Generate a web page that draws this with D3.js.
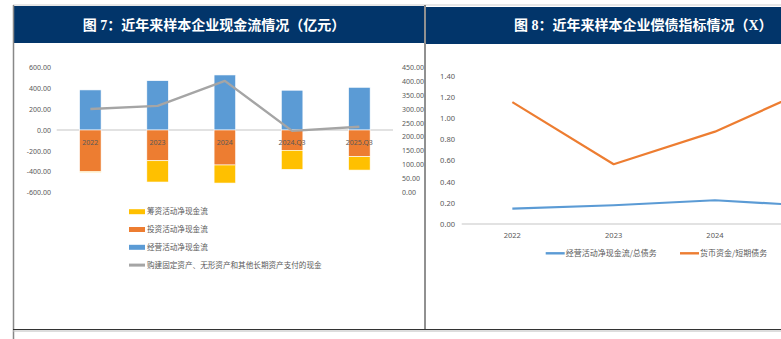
<!DOCTYPE html>
<html><head><meta charset="utf-8">
<script src="https://cdn.jsdelivr.net/npm/d3@7"></script>
<style>
html,body{margin:0;padding:0;background:#fff;}
svg{display:block;font-family:"Noto Sans CJK SC","Noto Sans",sans-serif;}
</style></head>
<body>
<svg id="c" width="781" height="339"></svg>
<script>
// ---- Left chart data ----
const cats = ["2022", "2023", "2024", "2024.Q3", "2025.Q3"];
const operating = [386, 475, 530, 383, 411];      // 经营活动净现金流
const investing = [-402, -296, -337, -196, -257]; // 投资活动净现金流
const financing = [-6, -205, -174, -183, -129];   // 筹资活动净现金流
const capex = [300, 311, 401, 221, 236];          // 购建固定资产...支付的现金 (right axis)
const leftTicks = [-600, -400, -200, 0, 200, 400, 600];
const rightTicks = [0, 50, 100, 150, 200, 250, 300, 350, 400, 450];

// ---- Right chart data ----
const cats2 = ["2022", "2023", "2024", "2024.Q3"];
const opDebt = [0.145, 0.177, 0.224, 0.17];   // 经营活动净现金流/总债务
const cashShort = [1.15, 0.564, 0.872, 1.30]; // 货币资金/短期债务
const ticks2 = [0, 0.2, 0.4, 0.6, 0.8, 1.0, 1.2, 1.4];

const svg = d3.select("#c");
const fmt = d => d.toFixed(2);
const labelColor = "#595959";
const W = 781;

// ---- frame ----
svg.append("line").attr("x1",13).attr("x2",781).attr("y1",5).attr("y2",5).attr("stroke","#cfcfcf").attr("stroke-width",1);
svg.append("rect").attr("x",13).attr("y",6).attr("width",411).attr("height",37).attr("fill","#02356A");
svg.append("rect").attr("x",426).attr("y",7).attr("width",355).attr("height",37).attr("fill","#02356A");
svg.append("text").attr("x",214).attr("y",29.5).attr("text-anchor","middle").attr("fill","#fff")
  .attr("font-size",14).attr("font-weight","bold")
  .attr("font-family","'Liberation Serif','Noto Sans CJK SC',serif").text("图 7：近年来样本企业现金流情况（亿元）");
svg.append("text").attr("x",514).attr("y",29.5).attr("text-anchor","start").attr("fill","#fff")
  .attr("font-size",14).attr("font-weight","bold")
  .attr("font-family","'Liberation Serif','Noto Sans CJK SC',serif").text("图 8：近年来样本企业偿债指标情况（X）");
svg.append("line").attr("x1",13.5).attr("x2",13.5).attr("y1",5).attr("y2",339).attr("stroke","#888").attr("stroke-width",1.5);
svg.append("line").attr("x1",425).attr("x2",425).attr("y1",5).attr("y2",330).attr("stroke","#222").attr("stroke-width",1);
svg.append("line").attr("x1",13).attr("x2",781).attr("y1",329.5).attr("y2",329.5).attr("stroke","#333").attr("stroke-width",1.2);
svg.append("line").attr("x1",13).attr("x2",781).attr("y1",331).attr("y2",331).attr("stroke","#bbb").attr("stroke-width",1);

// ---- Left chart ----
const x = d3.scaleBand().domain(cats).range([56.7, 393]).paddingInner(0.68).paddingOuter(0.34);
const yL = d3.scaleLinear().domain([-600, 600]).range([192.3, 67.7]);
const yR = d3.scaleLinear().domain([0, 450]).range([192.3, 67.3]);

const gL = svg.append("g");
const axL = gL.append("g").attr("transform","translate(53,0)")
  .call(d3.axisLeft(yL).tickValues(leftTicks).tickFormat(fmt).tickSize(0).tickPadding(2));
axL.select(".domain").remove();
axL.selectAll("text").attr("font-size",7).attr("fill",labelColor).attr("font-family","'Noto Sans',sans-serif");

const axR = gL.append("g").attr("transform","translate(400,0)")
  .call(d3.axisRight(yR).tickValues(rightTicks).tickFormat(fmt).tickSize(0).tickPadding(2));
axR.select(".domain").remove();
axR.selectAll("text").attr("font-size",7).attr("fill",labelColor).attr("font-family","'Noto Sans',sans-serif");

// zero line
gL.append("line").attr("x1",56.7).attr("x2",393).attr("y1",yL(0)).attr("y2",yL(0)).attr("stroke","#d9d9d9").attr("stroke-width",1.5);

const rows = cats.map((c,i)=>({cat:c, op:operating[i], inv:investing[i], fin:financing[i]}));
const stack = d3.stack().keys(["op","inv","fin"]).offset(d3.stackOffsetDiverging)(rows);
const colors = {op:"#5B9BD5", inv:"#ED7D31", fin:"#FFC000"};
stack.forEach(layer=>{
  gL.append("g").selectAll("rect").data(layer).join("rect")
    .attr("x", d=>x(d.data.cat))
    .attr("width", x.bandwidth())
    .attr("y", d=>yL(Math.max(d[0],d[1])))
    .attr("height", d=>Math.abs(yL(d[0])-yL(d[1])))
    .attr("fill", colors[layer.key])
    .attr("stroke","#fff").attr("stroke-width",0.6);
});

// category labels
gL.append("g").selectAll("text").data(cats).join("text")
  .attr("x", d=>x(d)+x.bandwidth()/2).attr("y", 144.5)
  .attr("text-anchor","middle").attr("font-size",7).attr("fill",labelColor)
  .attr("font-family","'Noto Sans',sans-serif").text(d=>d);

// capex line
const line = d3.line().x((d,i)=>x(cats[i])+x.bandwidth()/2).y(d=>yR(d));
gL.append("path").datum(capex).attr("d",line).attr("fill","none").attr("stroke","#A5A5A5").attr("stroke-width",2.4).attr("stroke-linejoin","round");

// left legend
const legL = [
  {t:"筹资活动净现金流", c:"#FFC000", type:"bar"},
  {t:"投资活动净现金流", c:"#ED7D31", type:"bar"},
  {t:"经营活动净现金流", c:"#5B9BD5", type:"bar"},
  {t:"购建固定资产、无形资产和其他长期资产支付的现金", c:"#A5A5A5", type:"line"}
];
const lg = gL.append("g").selectAll("g").data(legL).join("g")
  .attr("transform",(d,i)=>`translate(129,${211.7 + i*17.8})`);
lg.append("rect").attr("x",0).attr("y",d=>d.type==="bar"?-2.5:-1.5).attr("width",16).attr("height",d=>d.type==="bar"?5:3).attr("fill",d=>d.c);
lg.append("text").attr("x",18).attr("y",2.7).attr("font-size",7.6).attr("fill",labelColor).text(d=>d.t);

// ---- Right chart ----
const x2 = d3.scaleBand().domain(cats2).range([461.7, 461.7 + 4*101.3]);
const y2 = d3.scaleLinear().domain([0, 1.4]).range([224, 75.7]);
const gR = svg.append("g");
const ax2 = gR.append("g").attr("transform","translate(457,0)")
  .call(d3.axisLeft(y2).tickValues(ticks2).tickFormat(fmt).tickSize(0).tickPadding(2));
ax2.select(".domain").remove();
ax2.selectAll("text").attr("font-size",7.5).attr("fill",labelColor).attr("font-family","'Noto Sans',sans-serif");
gR.append("line").attr("x1",461.7).attr("x2",781).attr("y1",y2(0)).attr("y2",y2(0)).attr("stroke","#d9d9d9").attr("stroke-width",1.5);
// only the category labels that fall inside the visible window
gR.append("g").selectAll("text").data(cats2.filter(d=>x2(d)+x2.bandwidth()/2 + 12 < W)).join("text")
  .attr("x", d=>x2(d)+x2.bandwidth()/2).attr("y", 237.5)
  .attr("text-anchor","middle").attr("font-size",7.5).attr("fill",labelColor)
  .attr("font-family","'Noto Sans',sans-serif").text(d=>d);
const line2 = d3.line().x((d,i)=>x2(cats2[i])+x2.bandwidth()/2).y(d=>y2(d));
gR.append("path").datum(opDebt).attr("d",line2).attr("fill","none").attr("stroke","#5B9BD5").attr("stroke-width",2.2).attr("stroke-linejoin","round");
gR.append("path").datum(cashShort).attr("d",line2).attr("fill","none").attr("stroke","#ED7D31").attr("stroke-width",2.2).attr("stroke-linejoin","round");

const legR = [
  {t:"经营活动净现金流/总债务", c:"#5B9BD5", x:545.7},
  {t:"货币资金/短期债务", c:"#ED7D31", x:680}
];
const lr = gR.append("g").selectAll("g").data(legR).join("g").attr("transform",d=>`translate(${d.x},253.3)`);
lr.append("rect").attr("x",0).attr("y",-1.2).attr("width",19).attr("height",2.4).attr("fill",d=>d.c);
lr.append("text").attr("x",20).attr("y",2.8).attr("font-size",8).attr("fill",labelColor).text(d=>d.t);
</script>
</body></html>
